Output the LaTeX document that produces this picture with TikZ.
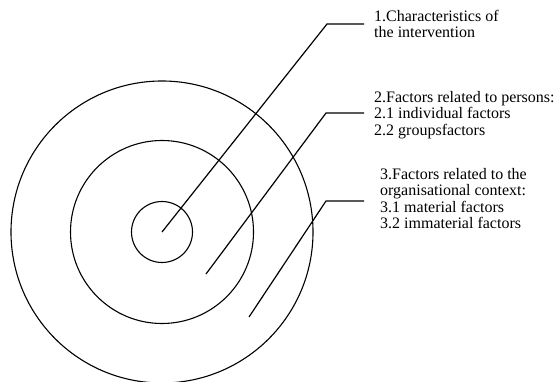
\documentclass[tikz,border=0pt]{standalone}
\usepackage{fontspec}
\setmainfont{Liberation Serif}
\usetikzlibrary{positioning}

\begin{document}
\begin{tikzpicture}[x=1pt, y=-1pt,
    every node/.style={font=\fontsize{16}{16.5}\selectfont, align=left},
    ring/.style={draw, circle, inner sep=0pt, outer sep=0pt, line width=1.1pt},
    leader/.style={line width=1.2pt},
    label/.style={anchor=north west, inner sep=0pt}]
  \useasboundingbox (0,0) rectangle (556,382);

  \coordinate (c) at (162,232);
  \node[ring, minimum size=61pt] (inner) at (c) {};
  \node[ring, minimum size=183pt] (middle) at (c) {};
  \node[ring, minimum size=302pt] (outer) at (c) {};

  \coordinate (p1) at (162,232);
  \coordinate (p2) at (206,274);
  \coordinate (p3) at (249,317);
  \coordinate (k1) at (327,24);
  \coordinate (k2) at (326,113);
  \coordinate (k3) at (326,201);
  \coordinate[right=37pt of k1] (e1);
  \coordinate[right=38pt of k2] (e2);
  \coordinate[right=38pt of k3] (e3);

  \node[label] (txt1) at (374,10) {1.Characteristics of\\the intervention};
  \node[label] (txt2) at (374,91) {2.Factors related to persons:\\2.1 individual factors\\2.2 groupsfactors};
  \node[label] (txt3) at (380,168) {3.Factors related to the\\organisational context:\\3.1 material factors\\3.2 immaterial factors};

  \draw[leader] (p1) -- (k1) -- (e1);
  \draw[leader] (p2) -- (k2) -- (e2);
  \draw[leader] (p3) -- (k3) -- (e3);
\end{tikzpicture}
\end{document}
